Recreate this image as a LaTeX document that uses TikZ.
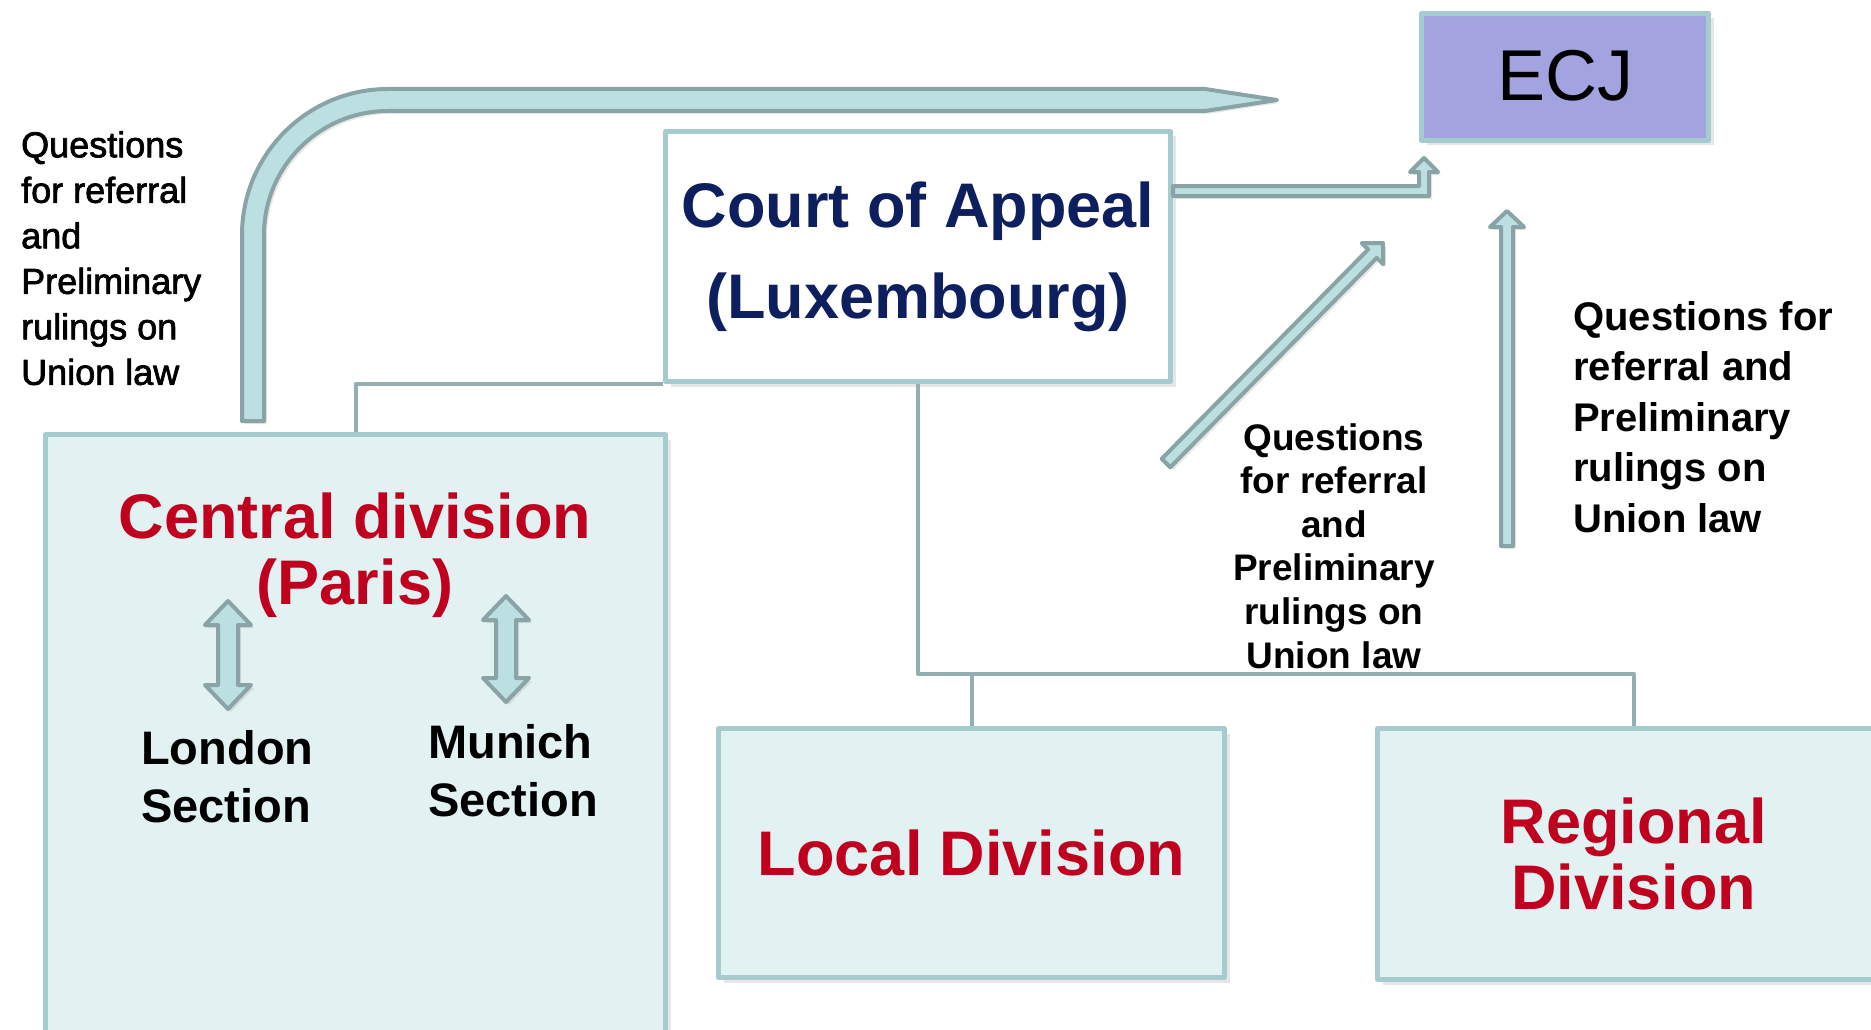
\documentclass[tikz,border=0pt]{standalone}
\usepackage{fontspec}
\setmainfont{Liberation Sans}
\setsansfont{Liberation Sans}
\newfontfamily\notefont[FakeBold=2]{Liberation Sans}
\usepackage{xcolor}
\usetikzlibrary{calc}
\usetikzlibrary{positioning}
\usetikzlibrary{shadows}

\definecolor{boxline}{HTML}{A6CBCE}
\definecolor{boxfill}{HTML}{E2F1F2}
\definecolor{ecjfill}{HTML}{A3A3DF}
\definecolor{linkline}{HTML}{93AFB2}
\definecolor{arrowfill}{HTML}{BCDFE2}
\definecolor{arrowline}{HTML}{8AA3A6}
\definecolor{divred}{HTML}{C0001F}
\definecolor{courtblue}{HTML}{0D1F5F}

\begin{document}
\begin{tikzpicture}[x=1pt, y=1pt, font=\sffamily, line join=round]
    \tikzstyle{block}=[draw=boxline, line width=5pt, rectangle, inner sep=0pt, drop shadow={shadow xshift=5pt, shadow yshift=-5pt, opacity=0.2}]
    \tikzstyle{divtext}=[text=divred, font=\sffamily\bfseries\fontsize{63}{66}\selectfont, align=center]
    \tikzstyle{conn}=[draw=linkline, line width=4pt]
    \tikzstyle{blockarrow}=[draw=arrowline, fill=arrowfill, line width=4pt, drop shadow={shadow xshift=3pt, shadow yshift=-3pt, opacity=0.18}]
    \tikzstyle{annot}=[inner sep=0pt]

    \useasboundingbox (0,0) rectangle (1871,-1030);

    %% Court of Appeal and ECJ
    \node[block, fill=white, minimum width=505pt, minimum height=250pt, text=courtblue, font=\sffamily\bfseries\fontsize{63}{91}\selectfont, align=center] (court) at (918,-256.5) {\raisebox{-3pt}{Court of Appeal}\\\raisebox{-3pt}{(Luxembourg)}};
    \node[block, fill=ecjfill, minimum width=287pt, minimum height=127pt, font=\sffamily\fontsize{72}{80}\selectfont] (ecj) at (1565,-77) {\raisebox{4pt}{ECJ}};

    %% Divisions
    \node[block, fill=boxfill, minimum width=620pt, minimum height=626pt] (central) at (355.5,-747.5) {};
    \node[divtext] (centraltxt) at (355,-555) {Central division\\(Paris)};
    \node[block, fill=boxfill, minimum width=506pt, minimum height=249pt, divtext] (local) at (971.5,-853) {Local Division};
    \node[block, fill=boxfill, minimum width=512pt, minimum height=251pt, divtext] (regional) at (1633.75,-854) {Regional\\Division};

    %% Sections
    \node[annot, anchor=north west, align=left, font=\sffamily\bfseries\fontsize{47}{58}\selectfont] (london) at (141,-730) {London\\Section};
    \node[annot, anchor=north west, align=left, font=\sffamily\bfseries\fontsize{47}{58}\selectfont] (munich) at (428,-724) {Munich\\Section};
    \draw[blockarrow] (228,-601) -- (251,-625) -- (238,-625) -- (238,-685) -- (251,-685) -- (228,-709) -- (205,-685) -- (218,-685) -- (218,-625) -- (205,-625) -- cycle;
    \draw[blockarrow] (506,-596) -- (529,-620) -- (516,-620) -- (516,-678) -- (529,-678) -- (506,-702) -- (483,-678) -- (496,-678) -- (496,-620) -- (483,-620) -- cycle;

    %% Links between courts
    \coordinate (junction) at ($(court.south)+(0,-290)$);
    \draw[conn] (court.south) -- (junction) -| (regional.north);
    \draw[conn] (local.north) -- (local.north |- junction);
    \draw[conn] (court.south west) -| (central.north);

    %% Referral arrows
    \draw[blockarrow] (242,-421) -- (242,-235) arc[start angle=180, end angle=90, radius=146] -- (1205,-89) -- (1277,-100) -- (1205,-111) -- (388,-111) arc[start angle=90, end angle=180, radius=124] -- (264,-421) -- cycle;
    \draw[blockarrow] (1173,-186) -- (1419,-186) -- (1419,-172) -- (1410,-172) -- (1424,-158) -- (1438,-172) -- (1429,-172) -- (1429,-196) -- (1173,-196) -- cycle;
    \begin{scope}[shift={(1166,-463)}, rotate=45.4]
        \draw[blockarrow] (0,-6) -- (294,-6) -- (294,-15) -- (309,0) -- (294,15) -- (294,6) -- (0,6) -- cycle;
    \end{scope}
    \begin{scope}[shift={(1507,-546)}, rotate=90]
        \draw[blockarrow] (0,-6) -- (319,-6) -- (319,-17) -- (335,0) -- (319,17) -- (319,6) -- (0,6) -- cycle;
    \end{scope}

    %% Annotations
    \node[annot, anchor=north west, align=left, font=\notefont\fontsize{36}{45.5}\selectfont] (leftnote) at (21,-131) {Questions\\for referral\\and\\Preliminary\\rulings on\\Union law};
    \node[annot, anchor=north, align=center, font=\sffamily\bfseries\fontsize{37}{43.6}\selectfont] (midnote) at (1334,-423) {Questions\\for referral\\and\\Preliminary\\rulings on\\Union law};
    \node[annot, anchor=north west, align=left, font=\sffamily\bfseries\fontsize{40}{50.5}\selectfont] (rightnote) at (1573,-301) {Questions for\\referral and\\Preliminary\\rulings on\\Union law};
\end{tikzpicture}
\end{document}
